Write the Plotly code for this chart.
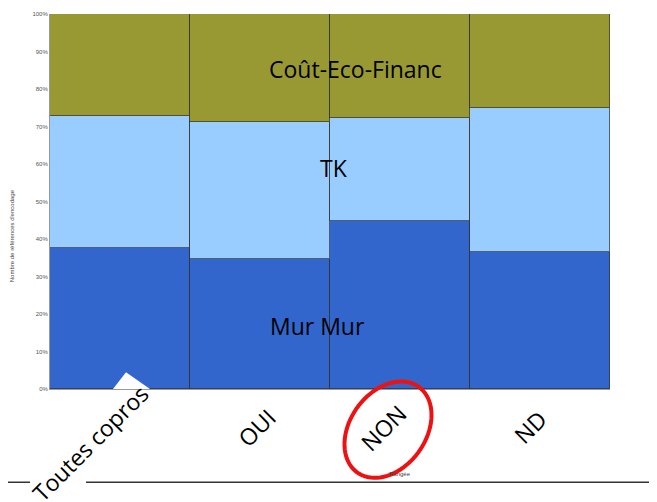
import numpy as np
import plotly.graph_objects as go

categories = ["Toutes copros", "OUI", "NON", "ND"]
mur_mur = [37.6, 34.7, 44.7, 36.5]
tk = [35.2, 36.5, 27.5, 38.4]
cout = [100 - a - b for a, b in zip(mur_mur, tk)]
series = [("Mur Mur", mur_mur, "#3366cc"), ("TK", tk, "#99ccff"), ("Coût-Eco-Financ", cout, "#999933")]
y_ticks = list(range(0, 101, 10))

# page body has an 8px margin; work in screen coordinates and convert
OFF = 8
W, H = 657 - OFF, 502 - OFF
L, R, T, B = 50 - OFF, 47, 11 - OFF, 113

fig = go.Figure()
for name, vals, col in series:
    fig.add_trace(go.Bar(x=categories, y=vals, name=name,
                         marker=dict(color=col, line=dict(color="rgba(50,50,50,0.7)", width=1)), width=1.0))

fig.update_layout(
    width=W, height=H, barmode="stack", bargap=0, showlegend=False,
    margin=dict(l=L, r=R, t=T, b=B, pad=0),
    plot_bgcolor="white", paper_bgcolor="white",
    font=dict(family="Open Sans"),
    xaxis=dict(showticklabels=False, showline=True, linecolor="#999", ticks="", range=[-0.5, 3.5]),
    yaxis=dict(range=[0, 100], tickvals=y_ticks, ticktext=[f"{v}%" for v in y_ticks],
               tickfont=dict(size=6, color="#555", family="Liberation Sans"), showgrid=False,
               showline=True, linecolor="#999", ticks="", ticklen=0, zeroline=False),
)

def to_paper(x, y):
    # x, y are screen pixel coordinates of the reference
    x -= OFF
    y -= OFF
    return (x - L) / (W - L - R), 1 - (y - T) / (H - T - B)

def px(x, y):
    a, b = to_paper(x, y)
    return dict(xref="paper", yref="paper", x=a, y=b, xanchor="center", yanchor="middle")

# series labels
for txt, (x, y) in [("Coût-Eco-Financ", (355, 66)), ("TK", (334, 166)), ("Mur Mur", (317, 325))]:
    fig.add_annotation(text=txt, showarrow=False, font=dict(size=23, color="black", family="Open Sans"), **px(x, y))

# rotated category labels
for txt, (x, y) in zip(categories, [(90, 443), (256, 428), (383, 428), (530, 427)]):
    fig.add_annotation(text=txt, showarrow=False, textangle=-45,
                       font=dict(size=23, color="black", family="Open Sans"), **px(x, y))

# axis titles (small)
fig.add_annotation(text="Rangée", showarrow=False, font=dict(size=6, color="#444", family="Liberation Sans"), **px(400, 475))
fig.add_annotation(text="Nombre de références d'encodage", showarrow=False, textangle=-90,
                   font=dict(size=6, color="#444", family="Liberation Sans"), **px(12, 235))

# white triangle pointer
tri = [to_paper(113, 389), to_paper(126, 372), to_paper(150, 389)]
fig.add_shape(type="path", xref="paper", yref="paper",
              path="M {} {} L {} {} L {} {} Z".format(*tri[0], *tri[1], *tri[2]),
              fillcolor="white", line=dict(width=0), layer="above")

# red ellipse around NON
cx, cy, a, b, th = 388, 430, 53, 38, np.deg2rad(55)
t = np.linspace(0, 2 * np.pi, 80)
ex = cx + a * np.cos(t) * np.cos(th) + b * np.sin(t) * np.sin(th)
ey = cy - a * np.cos(t) * np.sin(th) + b * np.sin(t) * np.cos(th)
pts = [to_paper(xx, yy) for xx, yy in zip(ex, ey)]
path = "M " + " L ".join(f"{p[0]:.5f} {p[1]:.5f}" for p in pts) + " Z"
fig.add_shape(type="path", xref="paper", yref="paper", path=path, line=dict(color="#ee1111", width=4))

# bottom horizontal lines
for x0, x1 in [(5, 30), (86, 657)]:
    p0, p1 = to_paper(x0, 483), to_paper(x1, 483)
    fig.add_shape(type="line", xref="paper", yref="paper", x0=p0[0], y0=p0[1], x1=p1[0], y1=p1[1],
                  line=dict(color="#333", width=1.5))

fig.write_html("out.html")
